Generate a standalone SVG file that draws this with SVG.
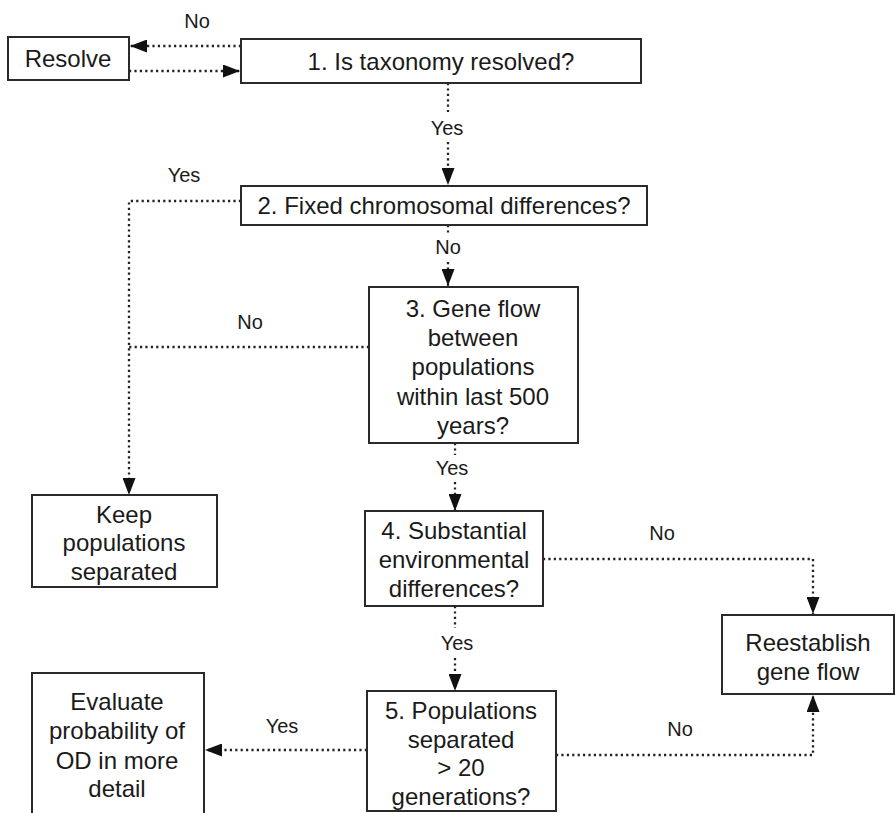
<svg xmlns="http://www.w3.org/2000/svg" width="895" height="813" viewBox="0 0 895 813">
<style>
.box{fill:#fff;stroke:#2a2a2a;stroke-width:2}
.t{font-family:"Liberation Sans",Arial,sans-serif;font-size:24px;fill:#1a1a1a;text-anchor:middle}
.l{font-family:"Liberation Sans",Arial,sans-serif;font-size:20px;fill:#1a1a1a;text-anchor:middle}
.c{fill:none;stroke:#222;stroke-width:2.3;stroke-dasharray:2.2 3.2}
</style>
<defs>
<marker id="ah" markerUnits="userSpaceOnUse" markerWidth="17" markerHeight="13" refX="17" refY="6.5" orient="auto">
<path d="M0,0 L17,6.5 L0,13 z" fill="#111"/>
</marker>
</defs>
<rect width="895" height="813" fill="#fff"/>
<g id="connectors">
<path class="c" d="M241,46 H130" marker-end="url(#ah)"/>
<path class="c" d="M129,71 H240" marker-end="url(#ah)"/>
<path class="c" d="M448,83 V112"/>
<path class="c" d="M448,142 V185" marker-end="url(#ah)"/>
<path class="c" d="M241,201 H129 V495" marker-end="url(#ah)"/>
<path class="c" d="M448,225 V233"/>
<path class="c" d="M448,262 V286" marker-end="url(#ah)"/>
<path class="c" d="M369,347 H129"/>
<path class="c" d="M455,443 V455"/>
<path class="c" d="M455,482 V511" marker-end="url(#ah)"/>
<path class="c" d="M543,559 H813 V614" marker-end="url(#ah)"/>
<path class="c" d="M455,606 V628"/>
<path class="c" d="M455,658 V691" marker-end="url(#ah)"/>
<path class="c" d="M367,750 H205" marker-end="url(#ah)"/>
<path class="c" d="M556,755 H813 V695" marker-end="url(#ah)"/>
<text class="l" x="197" y="28">No</text>
<text class="l" x="447" y="135">Yes</text>
<text class="l" x="184" y="182">Yes</text>
<text class="l" x="448" y="254">No</text>
<text class="l" x="250" y="329">No</text>
<text class="l" x="452" y="475">Yes</text>
<text class="l" x="662" y="540">No</text>
<text class="l" x="457" y="650">Yes</text>
<text class="l" x="282" y="733">Yes</text>
<text class="l" x="680" y="736">No</text>
</g>
<g id="resolve">
<rect class="box" x="8" y="37" width="121" height="43"/>
<text class="t" x="68" y="67">Resolve</text>
</g>
<g id="q1">
<rect class="box" x="241" y="39" width="400" height="44"/>
<text class="t" x="441" y="70">1. Is taxonomy resolved?</text>
</g>
<g id="q2">
<rect class="box" x="241" y="186" width="406" height="39"/>
<text class="t" x="444" y="214">2. Fixed chromosomal differences?</text>
</g>
<g id="q3">
<rect class="box" x="369" y="287" width="209" height="156"/>
<text class="t" x="473" y="317">3. Gene flow</text>
<text class="t" x="473" y="346">between</text>
<text class="t" x="473" y="375">populations</text>
<text class="t" x="473" y="405">within last 500</text>
<text class="t" x="473" y="434">years?</text>
</g>
<g id="keep">
<rect class="box" x="32" y="495" width="185" height="92"/>
<text class="t" x="124" y="523">Keep</text>
<text class="t" x="124" y="551">populations</text>
<text class="t" x="124" y="580">separated</text>
</g>
<g id="q4">
<rect class="box" x="365" y="511" width="178" height="95"/>
<text class="t" x="454" y="539">4. Substantial</text>
<text class="t" x="454" y="568">environmental</text>
<text class="t" x="454" y="597">differences?</text>
</g>
<g id="reestablish">
<rect class="box" x="722" y="615" width="172" height="79"/>
<text class="t" x="808" y="651">Reestablish</text>
<text class="t" x="808" y="680">gene flow</text>
</g>
<g id="q5">
<rect class="box" x="367" y="691" width="189" height="120"/>
<text class="t" x="461" y="719">5. Populations</text>
<text class="t" x="461" y="748">separated</text>
<text class="t" x="461" y="776">&gt; 20</text>
<text class="t" x="461" y="805">generations?</text>
</g>
<g id="evaluate">
<rect class="box" x="32" y="673" width="172" height="145"/>
<text class="t" x="117" y="710">Evaluate</text>
<text class="t" x="117" y="739">probability of</text>
<text class="t" x="117" y="769">OD in more</text>
<text class="t" x="117" y="797">detail</text>
</g>
</svg>
